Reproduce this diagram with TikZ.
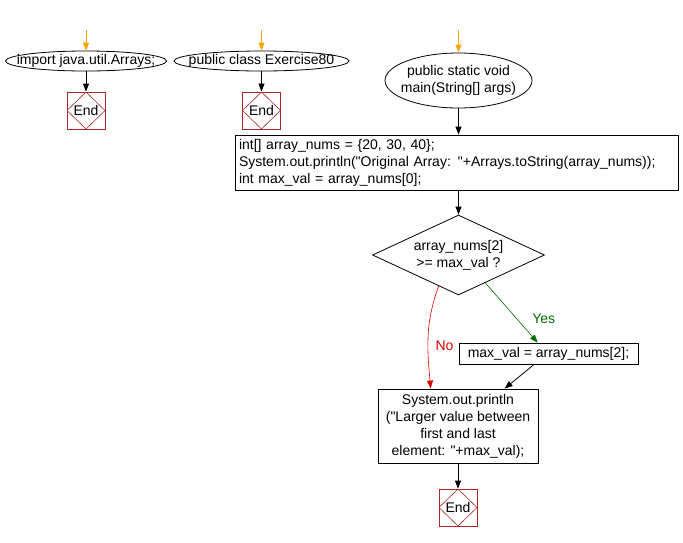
\documentclass[tikz,border=0pt]{standalone}
\usepackage{fontspec}
\setmainfont{Liberation Sans}[Ligatures=TeXOff]
\usetikzlibrary{shapes.geometric}
\usetikzlibrary{arrows.meta}
\usetikzlibrary{calc}
\definecolor{endred}{RGB}{170, 40, 40}
\definecolor{startorange}{RGB}{255, 165, 0}
\definecolor{yesgreen}{RGB}{0, 110, 0}
\definecolor{nored}{RGB}{220, 0, 0}
\tikzset{
  every node/.style={font=\fontsize{14}{17}\selectfont},
  startnode/.style={ellipse, draw=black, line width=0.8pt, inner xsep=-25pt, inner ysep=-5pt},
  endnode/.style={rectangle, draw=endred, line width=0.8pt, minimum width=38pt, minimum height=37pt, inner sep=0pt,
    path picture={\draw [endred, line width=0.6pt] (path picture bounding box.north) -- (path picture bounding box.east)
      -- (path picture bounding box.south) -- (path picture bounding box.west) -- cycle;}},
  procnode/.style={rectangle, draw=black, line width=0.8pt},
  decnode/.style={diamond, draw=black, line width=0.8pt, aspect=2.15, inner xsep=-6pt, inner ysep=-4pt,
    minimum width=172pt, minimum height=80pt},
  flow/.style={line width=0.8pt, -{Triangle[length=8pt, width=6pt]}}
}

\begin{document}
\begin{tikzpicture}
\useasboundingbox (0pt, 0pt) rectangle (683pt, -542pt);
\coordinate (s1) at (86pt, -30pt);
\coordinate (s2) at (261.5pt, -30pt);
\coordinate (s3) at (458.5pt, -30pt);
\node (imp) [startnode, minimum width=161pt, minimum height=20pt] at (86pt, -61pt) {import java.util.Arrays;};
\node (end1) [endnode] at (86pt, -110.5pt) {End};
\node (cls) [startnode, minimum width=175pt, minimum height=20pt] at (261.5pt, -61pt) {public class Exercise80};
\node (end2) [endnode] at (261.5pt, -110.5pt) {End};
\node (main) [startnode, minimum width=147pt, minimum height=55pt, align=center] at (458.5pt, -80.5pt) {public static void\\main(String[] args)};
\node (init) [procnode, text width=435pt, inner xsep=4pt, inner ysep=0pt, minimum height=55pt, align=left] at (456.5pt, -162.5pt) {int[] array\_nums = \{20, 30, 40\};\\System.out.println("Original Array: "+Arrays.toString(array\_nums));\\int max\_val = array\_nums[0];};
\node (cond) [decnode, align=center] at (458.5pt, -255pt) {array\_nums[2]\\>= max\_val ?};
\node (upd) [procnode, minimum width=179pt, minimum height=21pt, inner sep=0pt] at (548.5pt, -353.5pt) {max\_val = array\_nums[2];};
\node (out) [procnode, minimum width=160pt, minimum height=74pt, inner sep=0pt, align=center] at (458pt, -426pt) {System.out.println\\("Larger value between\\first and last\\element: "+max\_val);};
\node (end3) [endnode] at (458pt, -507.5pt) {End};
\draw [flow, startorange] (s1) to (imp);
\draw [flow, startorange] (s2) to (cls);
\draw [flow, startorange] (s3) to (main);
\draw [flow] (imp) to (end1);
\draw [flow] (cls) to (end2);
\draw [flow] (main) to (init.north -| main);
\draw [flow] (init.south -| cond) to (cond);
\draw [flow, yesgreen, line width=0.6pt] ($(cond.east)!0.69!(cond.south)$) to node [pos=0.6, anchor=west, xshift=12pt, text=yesgreen] {Yes} ($(upd.north west)!0.44!(upd.north east)$);
\draw [flow, nored, line width=0.6pt] ($(cond.west)!0.77!(cond.south)$) to [out=-110, in=95] node [pos=0.6, anchor=west, xshift=4pt, text=nored] {No} ($(out.north west)!0.33!(out.north east)$);
\draw [flow] ($(upd.south west)!0.42!(upd.south east)$) to ($(out.north west)!0.79!(out.north east)$);
\draw [flow] (out) to (end3);
\end{tikzpicture}
\end{document}
